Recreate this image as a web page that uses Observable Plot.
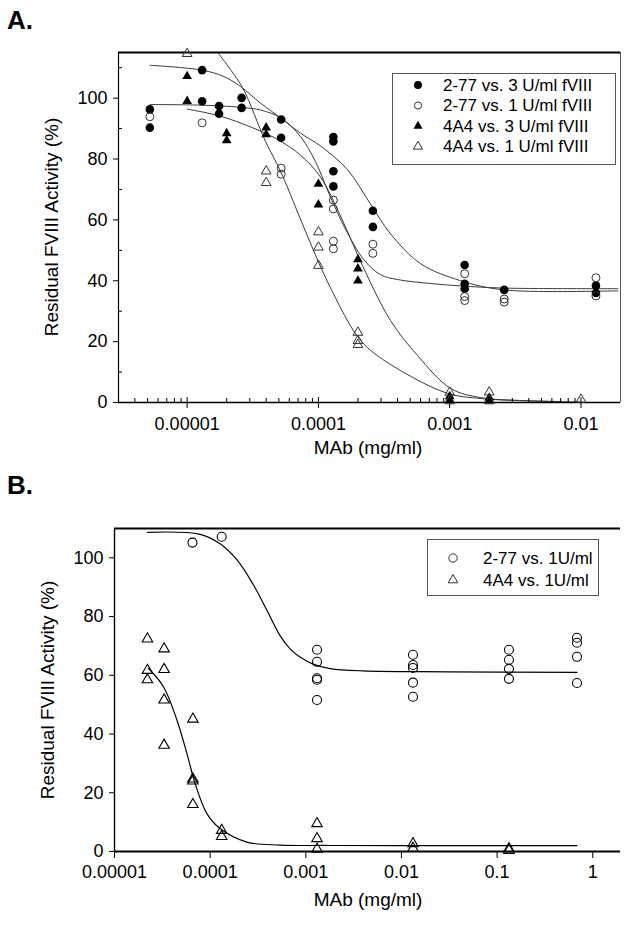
<!DOCTYPE html>
<html><head><meta charset="utf-8">
<script src="https://cdn.jsdelivr.net/npm/d3@7"></script>
<script src="https://cdn.jsdelivr.net/npm/@observablehq/plot@0.6"></script>
<style>
body{margin:0;background:#fff;}
#root{position:relative;width:630px;height:926px;background:#fff;font-family:"Liberation Sans",Arial,Helvetica,sans-serif;color:#000;overflow:hidden}
.abs{position:absolute;white-space:nowrap;line-height:1}
.title{font-weight:bold;font-size:26px;}
.axlab{font-size:19px;}
.rot{transform:translate(-50%,-50%) rotate(-90deg);}
.ctr{transform:translate(-50%,-50%);}
svg{overflow:visible}
</style></head>
<body><div id="root"></div>
<script>
const FONT = '"Liberation Sans", Arial, Helvetica, sans-serif';

// ---------- Panel A data ----------
const aLabels = ["2-77 vs. 3 U/ml fVIII","2-77 vs. 1 U/ml fVIII","4A4 vs. 3 U/ml fVIII","4A4 vs. 1 U/ml fVIII"];
const aCircleFilled = [[5.2e-6,96.3],[5.2e-6,90.3],[1.3e-5,109.2],[1.3e-5,99],[1.75e-5,97.4],[1.75e-5,94.9],[2.6e-5,100.1],[2.6e-5,96.8],[5.2e-5,93],[5.2e-5,87],[1.3e-4,87.2],[1.3e-4,85.8],[1.3e-4,76],[1.3e-4,71],[2.6e-4,63],[2.6e-4,57.7],[1.3e-3,45.2],[1.3e-3,39],[1.3e-3,37.4],[2.6e-3,37],[0.013,38.4],[0.013,36]];
const aCircleOpen = [[5.2e-6,93.9],[1.3e-5,91.9],[5.2e-5,77],[5.2e-5,75],[1.3e-4,66.5],[1.3e-4,63.6],[1.3e-4,53],[1.3e-4,50.5],[2.6e-4,52],[2.6e-4,49],[1.3e-3,42.3],[1.3e-3,34.8],[1.3e-3,33.5],[2.6e-3,34],[2.6e-3,33],[0.013,41],[0.013,35]];
const aTriFilled = [[1e-5,107.2],[1e-5,99],[2e-5,88.4],[2e-5,86.1],[4e-5,90.3],[4e-5,88.1],[1e-4,71.8],[1e-4,65],[2e-4,47],[2e-4,44],[2e-4,40],[1e-3,2],[1e-3,1],[2e-3,1.5],[2e-3,0.6]];
const aTriOpen = [[1e-5,114.6],[4e-5,76],[4e-5,72.2],[1e-4,56],[1e-4,51],[1e-4,45],[2e-4,23],[2e-4,20.3],[2e-4,19],[1e-3,3.3],[1e-3,0.5],[2e-3,3.4],[2e-3,0.5],[0.01,1]];
// fitted curves
const aFit1 = [[5.22e-6,110.8],[1.30e-5,109.2],[1.88e-5,107.2],[2.54e-5,103.9],[3.61e-5,98.4],[5.31e-5,93.1],[7.29e-5,88.5],[1.036e-4,84.3],[1.665e-4,76.5],[2.494e-4,65.2],[3.546e-4,55.4],[6.01e-4,45.6],[1.214e-3,40.0],[2.585e-3,37.0],[0.01914,36.7]];
const aFit2 = [[5.22e-6,97.9],[1.257e-5,97.7],[2.54e-5,97.0],[3.61e-5,96.1],[5.13e-5,93.6],[7.29e-5,87.4],[9.48e-5,79.2],[1.235e-4,67.5],[1.607e-4,57.0],[2.21e-4,47.0],[2.97e-4,42.0],[4.01e-4,40.4],[7.16e-4,39.1],[1.214e-3,38.3],[2.585e-3,37.6],[0.01914,37.4]];
const aFit3 = [[1.0e-5,96.4],[1.786e-5,94.1],[3.61e-5,89.2],[5.13e-5,85.9],[7.29e-5,81.3],[1.036e-4,74.1],[1.472e-4,61.3],[2.17e-4,44.9],[3.546e-4,26.9],[5.70e-4,15.4],[1.018e-3,4.6],[1.725e-3,1.6],[3.48e-3,0.66],[7.03e-3,0.33]];
const aFit4 = [[1.724e-5,114.8],[2.13e-5,109.5],[2.676e-5,103.0],[3.94e-5,85.9],[5.13e-5,76.1],[7.29e-5,60.3],[1.0e-4,46.2],[1.235e-4,37.7],[1.85e-4,23.6],[2.366e-4,18.0],[4.226e-4,10.5],[9.66e-4,3.0],[1.725e-3,1.3],[4.15e-3,0.5],[9.82e-3,0.16]];
const aXTicks = [1e-5, 1e-4, 1e-3, 1e-2];
const aXTickLabels = ["0.00001", "0.0001", "0.001", "0.01"];
const aXMinor = [4e-6,5e-6,6e-6,7e-6,8e-6,9e-6,2e-5,3e-5,4e-5,5e-5,6e-5,7e-5,8e-5,9e-5,2e-4,3e-4,4e-4,5e-4,6e-4,7e-4,8e-4,9e-4,2e-3,3e-3,4e-3,5e-3,6e-3,7e-3,8e-3,9e-3];
const aYTicks = [0, 20, 40, 60, 80, 100];
const aYMinor = [10, 30, 50, 70, 90, 110];

// ---------- Panel B data ----------
const bLabels = ["2-77 vs. 1U/ml", "4A4 vs. 1U/ml"];
const bCircle = [[6.53e-5,105.2],[1.32e-4,107.2],[1.31e-3,68.7],[1.31e-3,64.6],[1.31e-3,59],[1.31e-3,58.5],[1.31e-3,51.6],[0.0132,67],[0.0132,63.5],[0.0132,62.5],[0.0132,57.5],[0.0132,52.7],[0.133,68.7],[0.133,65.3],[0.133,62.2],[0.133,58.8],[0.684,72.8],[0.684,71.1],[0.684,66.3],[0.684,57.4]];
const bTri = [[2.21e-5,72.4],[2.21e-5,61.7],[2.21e-5,58.5],[3.3e-5,69],[3.3e-5,62],[3.3e-5,51.6],[3.3e-5,36.2],[6.6e-5,45.1],[6.6e-5,24.7],[6.6e-5,24],[6.6e-5,16],[1.32e-4,7.2],[1.32e-4,5.1],[1.31e-3,9.5],[1.31e-3,4.4],[1.31e-3,0.8],[0.0132,2.7],[0.0132,1.1],[0.133,1],[0.133,0.4]];
const bFit1 = [[2.2e-5,108.7],[7.86e-5,108.0],[1.27e-4,104.8],[1.91e-4,99.3],[2.81e-4,91.0],[3.94e-4,82.0],[5.38e-4,73.5],[6.85e-4,69.0],[8.7e-4,66.2],[1.19e-3,63.8],[1.79e-3,62.3],[3.97e-3,61.5],[0.030,61.2],[0.684,61.0]];
const bFit2 = [[2.26e-5,62.4],[3.25e-5,56.1],[4.49e-5,44.8],[5.71e-5,33.4],[6.97e-5,23.1],[9.24e-5,12.9],[1.27e-4,7.8],[2.42e-4,3.2],[5.38e-4,2.2],[1.8e-3,2.05],[9.7e-3,2.0],[0.684,2.0]];
const bXTicks = [1e-5, 1e-4, 1e-3, 1e-2, 1e-1, 1];
const bXTickLabels = ["0.00001", "0.0001", "0.001", "0.01", "0.1", "1"];
const bYTicks = [0, 20, 40, 60, 80, 100];

const root = document.getElementById("root");
function addDiv(cls, text, css) {
  const d = document.createElement("div");
  d.className = "abs " + cls;
  d.textContent = text;
  Object.assign(d.style, css);
  root.appendChild(d);
  return d;
}
const px = d => d[0], py = d => d[1];
const labA = new Map(aXTicks.map((t, i) => [t, aXTickLabels[i]]));
const labB = new Map(bXTicks.map((t, i) => [t, bXTickLabels[i]]));

// ---------- Panel A ----------
const plotA = Plot.plot({
  width: 630, height: 460,
  marginTop: 52, marginBottom: 58, marginLeft: 118, marginRight: 10,
  style: {fontFamily: FONT, fontSize: "18px", background: "transparent", color: "black"},
  x: {type: "log", domain: [3e-6, 0.02]},
  y: {domain: [0, 115]},
  marks: [
    Plot.line(aFit1, {x: px, y: py, curve: "catmull-rom", stroke: "#3a3a3a", strokeWidth: 1, clip: true}),
    Plot.line(aFit2, {x: px, y: py, curve: "catmull-rom", stroke: "#3a3a3a", strokeWidth: 1, clip: true}),
    Plot.line(aFit3, {x: px, y: py, curve: "catmull-rom", stroke: "#3a3a3a", strokeWidth: 1, clip: true}),
    Plot.line(aFit4, {x: px, y: py, curve: "catmull-rom", stroke: "#3a3a3a", strokeWidth: 1, clip: true}),
    Plot.ruleY([115], {stroke: "black", strokeWidth: 1.8}),
    Plot.ruleX([0.02], {stroke: "#555", strokeWidth: 1}),
    Plot.ruleX([3e-6], {stroke: "black", strokeWidth: 1.2}),
    Plot.ruleY([0], {stroke: "black", strokeWidth: 1.6}),
    Plot.axisX({ticks: aXTicks, tickFormat: d => labA.get(d), tickSize: 6, tickPadding: 9, label: null}),
    Plot.tickX(aXTicks, {x: d => d, insetTop: 345, stroke: "black"}),
    Plot.tickX(aXMinor, {x: d => d, insetTop: 346, stroke: "black"}),
    Plot.axisY({ticks: aYTicks, tickSize: 5, tickPadding: 6, label: null}),
    Plot.tickY(aYMinor, {y: d => d, insetRight: 498, stroke: "black"}),
    Plot.dot(aCircleFilled, {x: px, y: py, symbol: "circle", r: 4.3, fill: "black"}),
    Plot.dot(aCircleOpen, {x: px, y: py, symbol: "circle", r: 4, fill: "none", stroke: "#333", strokeWidth: 1}),
    Plot.dot(aTriFilled, {x: px, y: py, symbol: "triangle", r: 3.6, fill: "black"}),
    Plot.dot(aTriOpen, {x: px, y: py, symbol: "triangle", r: 3.6, fill: "none", stroke: "#333", strokeWidth: 1})
  ]
});
plotA.style.position = "absolute"; plotA.style.left = "0px"; plotA.style.top = "0px";
root.appendChild(plotA);

// ---------- Panel B ----------
const plotB = Plot.plot({
  width: 630, height: 466,
  marginTop: 68, marginBottom: 75, marginLeft: 114, marginRight: 10,
  style: {fontFamily: FONT, fontSize: "18px", background: "transparent", color: "black"},
  x: {type: "log", domain: [1e-5, 1.95]},
  y: {domain: [0, 110]},
  marks: [
    Plot.line(bFit1, {x: px, y: py, curve: "catmull-rom", stroke: "black", strokeWidth: 1.2, clip: true}),
    Plot.line(bFit2, {x: px, y: py, curve: "catmull-rom", stroke: "black", strokeWidth: 1.2, clip: true}),
    Plot.ruleY([110], {stroke: "black", strokeWidth: 1.8}),
    Plot.ruleX([1e-5], {stroke: "black", strokeWidth: 1.4}),
    Plot.ruleY([0], {stroke: "black", strokeWidth: 1.8}),
    Plot.axisX({ticks: bXTicks, tickFormat: d => labB.get(d), tickSize: 7, tickPadding: 7, label: null}),
    Plot.axisY({ticks: bYTicks, tickSize: 5, tickPadding: 6, label: null}),
    Plot.dot(bCircle, {x: px, y: py, symbol: "circle", r: 4.5, fill: "none", stroke: "black", strokeWidth: 1.1}),
    Plot.dot(bTri, {x: px, y: py, symbol: "triangle", r: 3.9, fill: "none", stroke: "black", strokeWidth: 1.1})
  ]
});
plotB.style.position = "absolute"; plotB.style.left = "0px"; plotB.style.top = "460px";
root.appendChild(plotB);

// ---------- Titles and axis labels ----------
addDiv("title", "A.", {left: "7px", top: "7px"});
addDiv("title", "B.", {left: "7px", top: "472px"});
addDiv("axlab rot", "Residual FVIII Activity (%)", {left: "51px", top: "227px"});
addDiv("axlab ctr", "MAb (mg/ml)", {left: "368px", top: "447px"});
addDiv("axlab rot", "Residual FVIII Activity (%)", {left: "47px", top: "690px"});
addDiv("axlab ctr", "MAb (mg/ml)", {left: "368px", top: "899px"});

// ---------- Legends ----------
function legend(x, y, w, h, rows, rowY, symX, txtX) {
  const svg = d3.select(root).append("svg")
    .attr("width", w).attr("height", h)
    .style("position", "absolute").style("left", x + "px").style("top", y + "px");
  svg.append("rect").attr("x", 0.5).attr("y", 0.5).attr("width", w - 1).attr("height", h - 1)
    .attr("fill", "white").attr("stroke", "#555").attr("stroke-width", 1);
  rows.forEach((r, i) => {
    svg.append("path")
      .attr("d", d3.symbol(r.type === "circle" ? d3.symbolCircle : d3.symbolTriangle, r.size)())
      .attr("transform", `translate(${symX},${rowY[i]})`)
      .attr("fill", r.filled ? "black" : "none")
      .attr("stroke", r.filled ? "none" : "#333").attr("stroke-width", 1);
    svg.append("text").attr("x", txtX).attr("y", rowY[i]).attr("dy", "0.35em")
      .attr("font-family", FONT).attr("font-size", r.fs).text(r.label);
  });
}
legend(392, 73, 224, 92, [
  {type: "circle", filled: true, size: 50, label: aLabels[0], fs: 17},
  {type: "circle", filled: false, size: 40, label: aLabels[1], fs: 17},
  {type: "triangle", filled: true, size: 36, label: aLabels[2], fs: 17},
  {type: "triangle", filled: false, size: 36, label: aLabels[3], fs: 17}
], [12, 32.5, 53, 73.5], 26, 51);
legend(427, 539, 172, 57, [
  {type: "circle", filled: false, size: 55, label: bLabels[0], fs: 17},
  {type: "triangle", filled: false, size: 40, label: bLabels[1], fs: 17}
], [19, 41], 26, 56);
</script>
</body></html>
